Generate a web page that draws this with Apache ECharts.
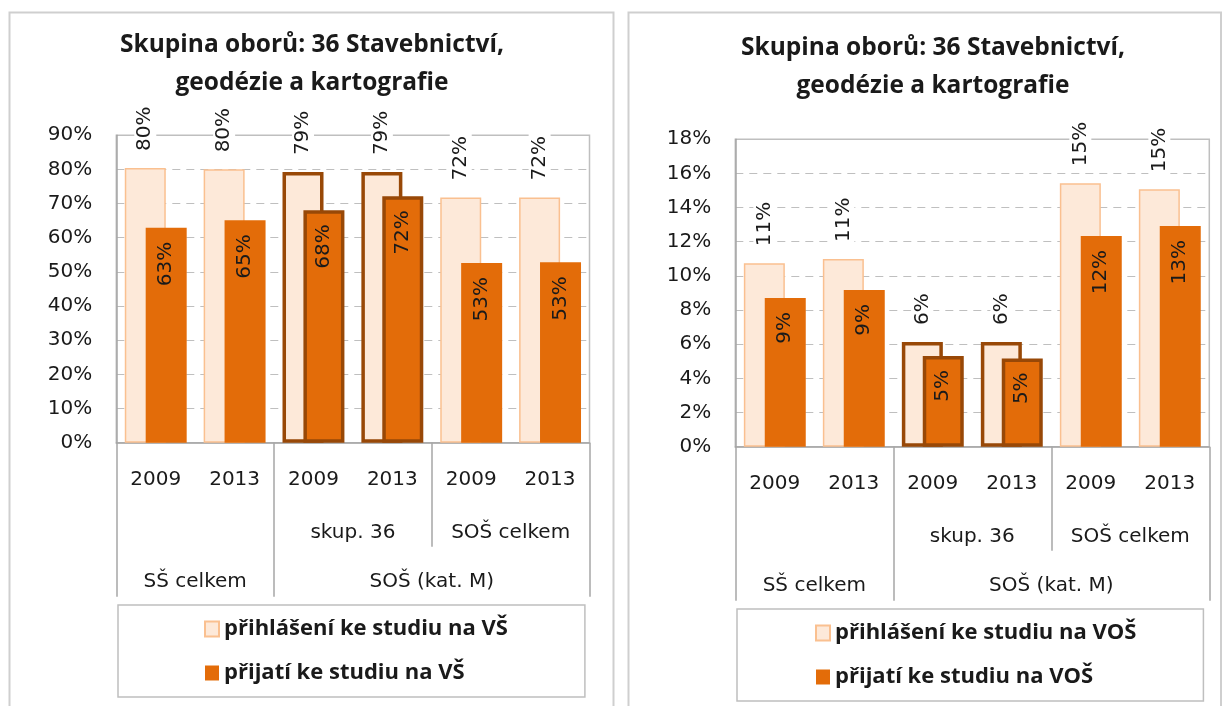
<!DOCTYPE html>
<html>
<head>
<meta charset="utf-8">
<script src="https://cdn.jsdelivr.net/npm/echarts@6.0.0/dist/echarts.min.js"></script>
<style>
  html, body { margin: 0; padding: 0; background: #ffffff; }
  #chart { width: 1224px; height: 706px; }
</style>
</head>
<body>
<div id="chart"></div>
<script>
// ---------- data ----------
const chartTitle = 'Skupina oborů: 36 Stavebnictví,\ngeodézie a kartografie';
const years = ['2009', '2013', '2009', '2013', '2009', '2013'];
// group labels placed on category boundaries (7 slots for 6 categories)
const level2Labels = ['', '', '', 'skup. 36', '', 'SOŠ celkem', ''];
const level3Labels = ['', 'SŠ celkem', '', '', 'SOŠ (kat. M)', '', ''];
const fullSeparatorSlots = [0, 2, 6];
const level2SeparatorSlots = [4];
const highlightIndex = [2, 3];

const seriesNamesVS = ['přihlášení ke studiu na VŠ', 'přijatí ke studiu na VŠ'];
const seriesNamesVOS = ['přihlášení ke studiu na VOŠ', 'přijatí ke studiu na VOŠ'];

const vsApplied = [80.4, 80.0, 79.2, 79.2, 71.8, 71.8];
const vsAccepted = [62.9, 65.1, 68.0, 72.1, 52.6, 52.8];
const vosApplied = [10.74, 10.99, 6.13, 6.13, 15.42, 15.07];
const vosAccepted = [8.70, 9.17, 5.31, 5.17, 12.34, 12.92];

const leftAxisMax = 90, leftAxisStep = 10;
const rightAxisMax = 18, rightAxisStep = 2;

// ---------- styles ----------
const AXIS_FONT = 'DejaVu Sans';
const BOLD_FONT = 'Open Sans';
const TEXT = '#1a1a1a';
const LIGHT_FILL = '#FDE9D9', LIGHT_BORDER = '#FAC090';
const DARK_FILL = '#E36C09';
const HIGHLIGHT_BORDER = '#984807';
const GRID_GRAY = '#BFBFBF', AXIS_GRAY = '#A6A6A6';

function styled(values) {
  return values.map((v, i) => highlightIndex.includes(i)
    ? { value: v, itemStyle: { borderColor: HIGHLIGHT_BORDER, borderWidth: 3.5 } }
    : v);
}
const pct = p => Math.round(p.value) + '%';

function xAxesFor(gridIndex) {
  return [
    {
      type: 'category', gridIndex, position: 'bottom', data: years,
      axisLine: { show: true, lineStyle: { color: AXIS_GRAY, width: 1.5 } },
      axisTick: { show: false },
      axisLabel: { margin: 27, interval: 0, fontFamily: AXIS_FONT, fontSize: 20, color: TEXT }
    },
    {
      type: 'category', gridIndex, position: 'bottom', data: level3Labels, boundaryGap: false,
      axisLine: { show: false },
      axisTick: { show: true, length: 154, interval: (i) => fullSeparatorSlots.includes(i),
                  lineStyle: { color: AXIS_GRAY, width: 1.5 } },
      axisLabel: { margin: 129, interval: 0, fontFamily: AXIS_FONT, fontSize: 20, color: TEXT }
    },
    {
      type: 'category', gridIndex, position: 'bottom', data: level2Labels, boundaryGap: false,
      axisLine: { show: false },
      axisTick: { show: true, length: 104, interval: (i) => level2SeparatorSlots.includes(i),
                  lineStyle: { color: AXIS_GRAY, width: 1.5 } },
      axisLabel: { margin: 80, interval: 0, fontFamily: AXIS_FONT, fontSize: 20, color: TEXT }
    }
  ];
}

function yAxisFor(gridIndex, max, step) {
  return {
    type: 'value', gridIndex, min: 0, max, interval: step,
    axisLine: { show: true, lineStyle: { color: AXIS_GRAY, width: 1.5 } },
    axisTick: { show: false },
    splitLine: { show: true, lineStyle: { color: GRID_GRAY, type: [8, 6], width: 1.2 } },
    axisLabel: { formatter: '{value}%', margin: 24, fontFamily: AXIS_FONT, fontSize: 20, color: TEXT }
  };
}

function seriesFor(names, applied, accepted, xAxisIndex, yAxisIndex) {
  return [
    {
      name: names[0], type: 'bar', xAxisIndex, yAxisIndex,
      data: styled(applied), barWidth: 41, barGap: '-49%',
      itemStyle: { color: LIGHT_FILL, borderColor: LIGHT_BORDER, borderWidth: 1.5 },
      label: {
        show: true, position: 'top', distance: 14, rotate: 90, align: 'left', verticalAlign: 'middle',
        formatter: pct, fontFamily: AXIS_FONT, fontSize: 20, color: TEXT,
        backgroundColor: '#ffffff', padding: [1, 3]
      },
      silent: true
    },
    {
      name: names[1], type: 'bar', xAxisIndex, yAxisIndex,
      data: styled(accepted), barWidth: 41, barGap: '-49%',
      itemStyle: { color: DARK_FILL },
      label: {
        show: true, position: 'insideTop', distance: 14, rotate: 90, align: 'right', verticalAlign: 'middle',
        formatter: pct, fontFamily: AXIS_FONT, fontSize: 20, color: TEXT
      },
      silent: true
    }
  ];
}

function legendFor(names, left, top, padding) {
  return {
    data: names, orient: 'vertical', left, top, padding,
    itemGap: 20, itemWidth: 14, itemHeight: 15, icon: 'rect',
    borderColor: GRID_GRAY, borderWidth: 1.5, selectedMode: false,
    textStyle: { fontFamily: BOLD_FONT, fontWeight: 'bold', fontSize: 22, lineHeight: 24, color: TEXT }
  };
}

const titleStyle = { fontFamily: BOLD_FONT, fontWeight: 'bold', fontSize: 24.5, lineHeight: 38, color: TEXT };

const option = {
  animation: false,
  backgroundColor: '#ffffff',
  title: [
    { text: chartTitle, left: 312, top: 26, textAlign: 'center', padding: 0, textStyle: titleStyle },
    { text: chartTitle, left: 933, top: 29, textAlign: 'center', padding: 0, textStyle: titleStyle }
  ],
  grid: [
    { left: 116.3, top: 135.2, width: 473.2, height: 307.5, show: true, borderColor: GRID_GRAY, borderWidth: 1.5, outerBoundsMode: 'none' },
    { left: 735.3, top: 139.2, width: 474, height: 307.5, show: true, borderColor: GRID_GRAY, borderWidth: 1.5, outerBoundsMode: 'none' }
  ],
  xAxis: [...xAxesFor(0), ...xAxesFor(1)],
  yAxis: [yAxisFor(0, leftAxisMax, leftAxisStep), yAxisFor(1, rightAxisMax, rightAxisStep)],
  legend: [
    legendFor(seriesNamesVS, 118, 605, [12, 77, 12, 86]),
    legendFor(seriesNamesVOS, 737, 609, [12, 67, 12, 78])
  ],
  series: [
    ...seriesFor(seriesNamesVS, vsApplied, vsAccepted, 0, 0),
    ...seriesFor(seriesNamesVOS, vosApplied, vosAccepted, 3, 1)
  ],
  graphic: [
    { type: 'rect', silent: true, z: -10, shape: { x: 9.5, y: 12.5, width: 604, height: 720 },
      style: { fill: null, stroke: '#CFCFCF', lineWidth: 2 } },
    { type: 'rect', silent: true, z: -10, shape: { x: 628.5, y: 12.5, width: 592.5, height: 720 },
      style: { fill: null, stroke: '#CFCFCF', lineWidth: 2 } }
  ]
};

const chart = echarts.init(document.getElementById('chart'), null, { renderer: 'canvas' });
chart.setOption(option);
</script>
</body>
</html>
